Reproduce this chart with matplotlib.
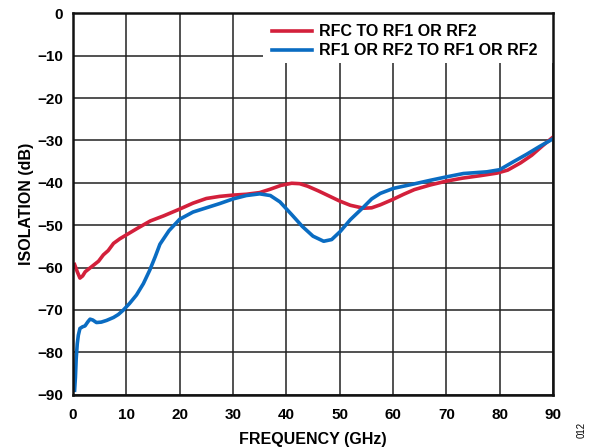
import matplotlib
matplotlib.use('Agg')
from matplotlib import pyplot as plt
from matplotlib.patches import Rectangle

plt.rcParams['font.family'] = ['Liberation Sans', 'DejaVu Sans']
plt.rcParams['font.weight'] = 'bold'

# RFC to RF1/RF2 isolation
rfc_freq = [0.3, 0.8, 1.3, 1.8, 2.3, 3.0, 3.8, 4.8, 5.7, 6.6, 7.6, 8.8, 10, 12, 14.5, 17,
            20, 22.5, 25, 27.5, 30, 32.5, 35, 37, 39, 41, 42.5, 44, 46, 48, 50, 52,
            54.5, 56, 57.6, 60, 62, 64, 67, 70, 73, 76.4, 79.5, 81.5, 83.9, 86, 88, 90]
rfc_iso = [-59.3, -61.0, -62.5, -62.0, -61.0, -60.3, -59.5, -58.5, -57.0, -56.0, -54.3,
           -53.2, -52.3, -50.8, -49.0, -47.8, -46.2, -44.8, -43.7, -43.2, -42.9, -42.7,
           -42.3, -41.5, -40.6, -40.1, -40.2, -40.8, -41.9, -43.1, -44.3, -45.3,
           -46.0, -45.9, -45.2, -43.9, -42.7, -41.6, -40.5, -39.6, -38.9, -38.3,
           -37.7, -37.0, -35.3, -33.5, -31.3, -29.2]

# RF1/RF2 to RF1/RF2 isolation
rf_freq = [0.3, 0.45, 0.6, 0.8, 1.0, 1.3, 1.8, 2.25, 2.8, 3.2, 3.7, 4.4, 5.3, 6.3, 7.6, 8.5,
           9.4, 10.6, 11.9, 13.2, 14.4, 15.4, 16.3, 18, 20, 22.5, 25, 27.5, 30, 32.5,
           35, 37, 38.8, 41, 43, 45, 47, 48.5, 50.1, 52, 54.5, 56, 57.6, 60.1, 63.8,
           67, 70, 73.2, 77.6, 80, 82.6, 85, 87.5, 90]
rf_iso = [-89.0, -86.0, -81.5, -78.0, -76.0, -74.4, -74.0, -73.8, -72.8, -72.2, -72.4,
          -73.0, -72.9, -72.5, -71.8, -71.1, -70.1, -68.5, -66.5, -63.8, -60.6, -57.5,
          -54.5, -51.3, -48.6, -46.9, -45.9, -44.9, -43.8, -43.0, -42.6, -43.0,
          -44.5, -47.5, -50.3, -52.6, -53.8, -53.4, -51.5, -48.7, -45.7, -43.8,
          -42.5, -41.3, -40.3, -39.4, -38.6, -37.8, -37.4, -36.9, -35.0, -33.3,
          -31.4, -29.6]

x_ticks = list(range(0, 91, 10))
y_ticks = list(range(-90, 1, 10))

red = '#d3203b'
blue = '#0a6cc2'

fig = plt.figure(figsize=(6.03, 4.48), dpi=100)
ax = fig.add_axes([73 / 603, 1 - 394.5 / 448, 480 / 603, 381 / 448])

ax.plot(rfc_freq, rfc_iso, color=red, lw=2.6, label='RFC TO RF1 OR RF2', zorder=3)
ax.plot(rf_freq, rf_iso, color=blue, lw=2.6, label='RF1 OR RF2 TO RF1 OR RF2', zorder=4)

ax.set_xlim(0, 90)
ax.set_ylim(-90, 0)
ax.set_xticks(x_ticks)
ax.set_yticks(y_ticks)
ax.grid(True, color='#222222', lw=1.1)
ax.set_axisbelow(True)
ax.tick_params(length=0, labelsize=11)
ax.tick_params(axis='x', pad=9.5)
ax.tick_params(axis='y', pad=7)
for lab in ax.get_xticklabels() + ax.get_yticklabels():
    lab.set_fontweight('bold')
for sp in ax.spines.values():
    sp.set_linewidth(1.8)
    sp.set_color('#111111')
    sp.set_zorder(6)

ax.set_xlabel('FREQUENCY (GHz)', fontsize=11.5, fontweight='bold', labelpad=7.5)
ax.set_ylabel('ISOLATION (dB)', fontsize=11.5, fontweight='bold', labelpad=2.5)

# white block behind the legend hides the grid there
ax.add_patch(Rectangle((0.396, 0.87), 0.604, 0.13, transform=ax.transAxes,
                       facecolor='white', edgecolor='none', zorder=2))
leg = ax.legend(loc='upper left', bbox_to_anchor=(0.415, 0.972), frameon=False,
                borderpad=0, borderaxespad=0, handlelength=2.5, handletextpad=0.45,
                labelspacing=0.26, prop={'size': 11.5, 'weight': 'bold'})
leg.set_zorder(7)

fig.text(0.965, 0.04, '012', rotation=90, fontsize=7, fontweight='normal',
         ha='center', va='center')

fig.savefig('out.png', dpi=100)
